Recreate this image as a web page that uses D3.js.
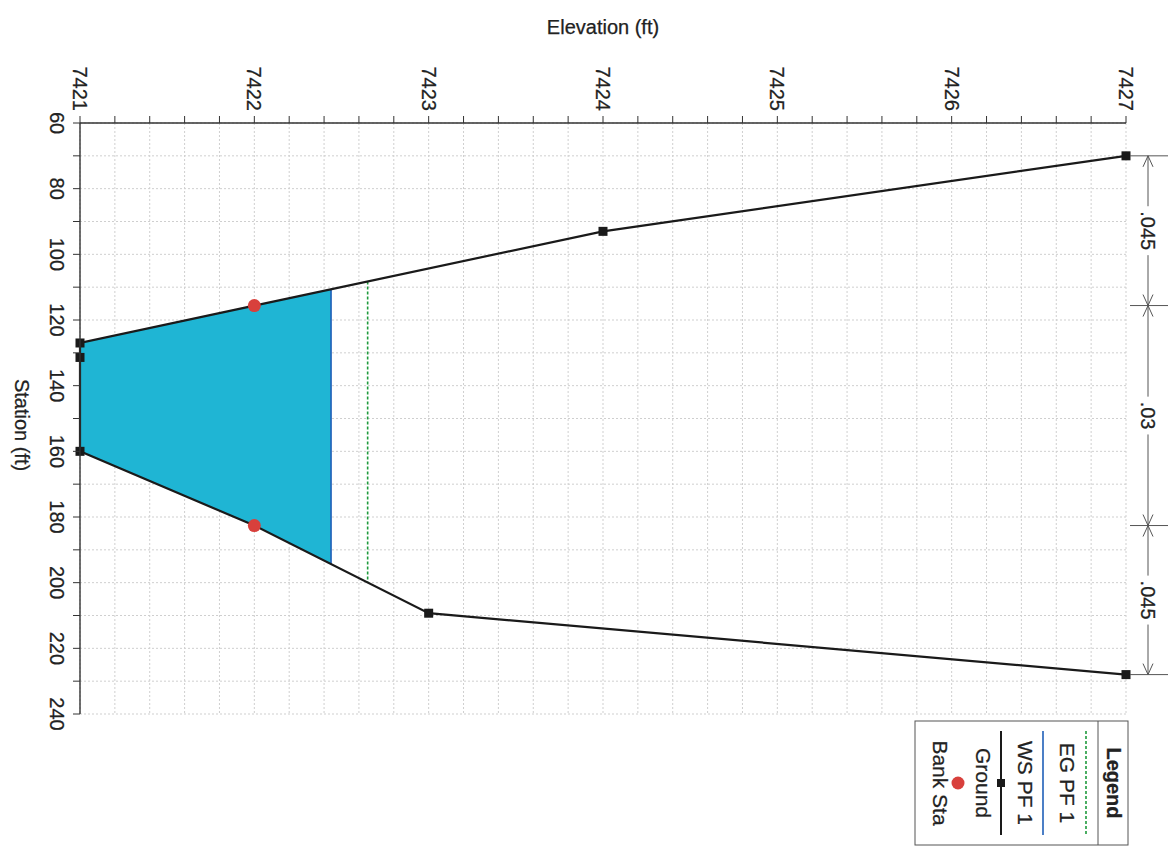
<!DOCTYPE html>
<html>
<head>
<meta charset="utf-8">
<script src="https://cdn.jsdelivr.net/npm/d3@7"></script>
<style>
  html, body { margin: 0; padding: 0; background: #ffffff; }
  svg { display: block; font-family: "Liberation Sans", Arial, sans-serif; }
  text { stroke: #222; stroke-width: 0.25px; }
</style>
</head>
<body>
<svg id="chart" width="1173" height="850"></svg>
<script>
// ---------------- data ----------------
const groundStation = [70, 93, 115.6, 127, 131.4, 160, 182.6, 209.3, 228];
const groundElev    = [7427, 7424, 7422, 7421, 7421, 7421, 7422, 7423, 7427];
const bankStation   = [115.6, 182.6];
const bankElev      = [7422, 7422];
const wsElev = 7422.44;   // WS PF 1
const egElev = 7422.65;   // EG PF 1
const nBreaks = [70, 115.6, 182.6, 228];
const nLabels = [".045", ".03", ".045"];
const elevTicks = [7421, 7422, 7423, 7424, 7425, 7426, 7427];
const stationTicks = [60, 80, 100, 120, 140, 160, 180, 200, 220, 240];
const legendLabels = ["EG PF 1", "WS PF 1", "Ground", "Bank Sta"];

// ---------------- layout ----------------
const svg = d3.select("#chart");
const x = d3.scaleLinear().domain([7421, 7427]).range([80, 1126]);   // elevation (horizontal)
const y = d3.scaleLinear().domain([60, 240]).range([123, 714]);      // station (vertical)
const textColor = "#222";
const fs = 20;

// grid
const gridX = d3.range(7421, 7427.001, 0.2);
const gridY = d3.range(60, 240.001, 10);
const grid = svg.append("g");
grid.selectAll("line.gx").data(gridX).join("line")
  .attr("x1", d => x(d)).attr("x2", d => x(d))
  .attr("y1", y(60)).attr("y2", y(240))
  .attr("stroke", "#cfcfcf").attr("stroke-width", 1).attr("stroke-dasharray", "2,2");
grid.selectAll("line.gy").data(gridY).join("line")
  .attr("x1", x(7421)).attr("x2", x(7427))
  .attr("y1", d => y(d)).attr("y2", d => y(d))
  .attr("stroke", "#cfcfcf").attr("stroke-width", 1).attr("stroke-dasharray", "2,2");

// ground points
const ground = groundStation.map((s, i) => ({ s, e: groundElev[i] }));

// intersection helper: stations where ground crosses level
function crossings(level) {
  const out = [];
  for (let i = 0; i < ground.length - 1; i++) {
    const a = ground[i], b = ground[i + 1];
    if ((a.e - level) * (b.e - level) < 0) {
      const t = (a.e - level) / (a.e - b.e);
      out.push({ s: a.s + t * (b.s - a.s), e: level, idx: i });
    }
  }
  return out;
}

// water polygon
const wsX = crossings(wsElev);
const wl = wsX[0], wr = wsX[wsX.length - 1];
const waterPts = [wl].concat(ground.slice(wl.idx + 1, wr.idx + 1)).concat([wr]);
svg.append("path")
  .attr("d", d3.line().x(d => x(d.e)).y(d => y(d.s))(waterPts) + "Z")
  .attr("fill", "#1fb5d4").attr("stroke", "none");
// WS line
svg.append("line")
  .attr("x1", x(wsElev)).attr("x2", x(wsElev))
  .attr("y1", y(wl.s)).attr("y2", y(wr.s))
  .attr("stroke", "#1f5fb8").attr("stroke-width", 1.6);

// EG line
const egX = crossings(egElev);
svg.append("line")
  .attr("x1", x(egElev)).attr("x2", x(egElev))
  .attr("y1", y(egX[0].s)).attr("y2", y(egX[egX.length - 1].s))
  .attr("stroke", "#1e9a3c").attr("stroke-width", 1.6).attr("stroke-dasharray", "3,2");

// ground line
svg.append("path")
  .attr("d", d3.line().x(d => x(d.e)).y(d => y(d.s))(ground))
  .attr("fill", "none").attr("stroke", "#1a1a1a").attr("stroke-width", 2.2);
svg.selectAll("rect.gp").data(ground).join("rect")
  .attr("x", d => x(d.e) - 4.5).attr("y", d => y(d.s) - 4.5)
  .attr("width", 9).attr("height", 9).attr("fill", "#1a1a1a");

// bank stations
svg.selectAll("circle.bank").data(bankStation).join("circle")
  .attr("cx", (d, i) => x(bankElev[i])).attr("cy", d => y(d))
  .attr("r", 6.5).attr("fill", "#d8403c");

// axes
const axTop = svg.append("g");
axTop.append("line").attr("x1", x(7421)).attr("x2", x(7427)).attr("y1", y(60)).attr("y2", y(60))
  .attr("stroke", "#333").attr("stroke-width", 1.4);
axTop.selectAll("line.t").data(gridX).join("line")
  .attr("x1", d => x(d)).attr("x2", d => x(d)).attr("y1", y(60)).attr("y2", y(60) - 7)
  .attr("stroke", "#333").attr("stroke-width", 1);
axTop.selectAll("text").data(elevTicks).join("text")
  .attr("transform", d => `translate(${x(d)},${y(60) - 12}) rotate(90)`)
  .attr("text-anchor", "end").attr("dominant-baseline", "central")
  .attr("font-size", fs).attr("fill", textColor).text(d => d);

const axLeft = svg.append("g");
axLeft.append("line").attr("x1", x(7421)).attr("x2", x(7421)).attr("y1", y(60)).attr("y2", y(240))
  .attr("stroke", "#333").attr("stroke-width", 1.4);
axLeft.selectAll("line.t").data(gridY).join("line")
  .attr("x1", x(7421)).attr("x2", x(7421) - 7).attr("y1", d => y(d)).attr("y2", d => y(d))
  .attr("stroke", "#333").attr("stroke-width", 1);
axLeft.selectAll("text").data(stationTicks).join("text")
  .attr("transform", d => `translate(${x(7421) - 23},${y(d)}) rotate(90)`)
  .attr("text-anchor", "middle").attr("dominant-baseline", "central")
  .attr("font-size", fs).attr("fill", textColor).text(d => d);

// axis titles
svg.append("text").attr("x", 603).attr("y", 27)
  .attr("text-anchor", "middle").attr("dominant-baseline", "central")
  .attr("font-size", fs).attr("fill", textColor).text("Elevation (ft)");
svg.append("text").attr("transform", `translate(22,425) rotate(90)`)
  .attr("text-anchor", "middle").attr("dominant-baseline", "central")
  .attr("font-size", fs).attr("fill", textColor).text("Station (ft)");

// Manning's n annotation
const nx = 1148;
const ann = svg.append("g").attr("stroke", "#555").attr("stroke-width", 1).attr("fill", "none");
ann.append("line").attr("x1", nx).attr("x2", nx).attr("y1", y(nBreaks[0])).attr("y2", y(nBreaks[nBreaks.length - 1]));
nBreaks.forEach((b, i) => {
  const yy = y(b);
  const x0 = (i === 0 || i === nBreaks.length - 1) ? x(7427) + 4 : 1130;
  ann.append("line").attr("x1", x0).attr("x2", 1168).attr("y1", yy).attr("y2", yy);
  if (i > 0) {
    ann.append("path").attr("d", `M${nx - 5},${yy - 11}L${nx},${yy}L${nx + 5},${yy - 11}`);
  }
  if (i < nBreaks.length - 1) {
    ann.append("path").attr("d", `M${nx - 5},${yy + 11}L${nx},${yy}L${nx + 5},${yy + 11}`);
  }
});
nLabels.forEach((lab, i) => {
  const cy = (y(nBreaks[i]) + y(nBreaks[i + 1])) / 2;
  const g = svg.append("g").attr("transform", `translate(${nx},${cy}) rotate(90)`);
  const t = g.append("text").attr("text-anchor", "middle").attr("dominant-baseline", "central")
    .attr("font-size", fs).attr("fill", textColor).text(lab);
  const bb = t.node().getBBox();
  g.insert("rect", "text").attr("x", bb.x - 5).attr("y", bb.y).attr("width", bb.width + 10)
    .attr("height", bb.height).attr("fill", "#fff").attr("stroke", "none");
});

// legend
const lg = svg.append("g");
lg.append("rect").attr("x", 915).attr("y", 721).attr("width", 213).attr("height", 124)
  .attr("fill", "#fff").attr("stroke", "#555").attr("stroke-width", 1);
lg.append("line").attr("x1", 1098).attr("x2", 1098).attr("y1", 721).attr("y2", 845)
  .attr("stroke", "#555").attr("stroke-width", 1);
lg.append("text").attr("transform", "translate(1114,783) rotate(90)")
  .attr("text-anchor", "middle").attr("dominant-baseline", "central")
  .attr("font-size", fs).attr("font-weight", "bold").attr("fill", textColor).text("Legend");
const itemX = [1067, 1025, 983, 940];
const symX  = [1086, 1043, 1001, 958];
legendLabels.forEach((lab, i) => {
  lg.append("text").attr("transform", `translate(${itemX[i]},783) rotate(90)`)
    .attr("text-anchor", "middle").attr("dominant-baseline", "central")
    .attr("font-size", 21).attr("fill", textColor).text(lab);
});
lg.append("line").attr("x1", symX[0]).attr("x2", symX[0]).attr("y1", 731).attr("y2", 835)
  .attr("stroke", "#1e9a3c").attr("stroke-width", 1.6).attr("stroke-dasharray", "3,2");
lg.append("line").attr("x1", symX[1]).attr("x2", symX[1]).attr("y1", 731).attr("y2", 835)
  .attr("stroke", "#1f5fb8").attr("stroke-width", 1.6);
lg.append("line").attr("x1", symX[2]).attr("x2", symX[2]).attr("y1", 731).attr("y2", 835)
  .attr("stroke", "#1a1a1a").attr("stroke-width", 2);
lg.append("rect").attr("x", symX[2] - 4).attr("y", 779).attr("width", 8).attr("height", 8).attr("fill", "#1a1a1a");
lg.append("circle").attr("cx", symX[3]).attr("cy", 783).attr("r", 6.5).attr("fill", "#d8403c");
</script>
</body>
</html>
